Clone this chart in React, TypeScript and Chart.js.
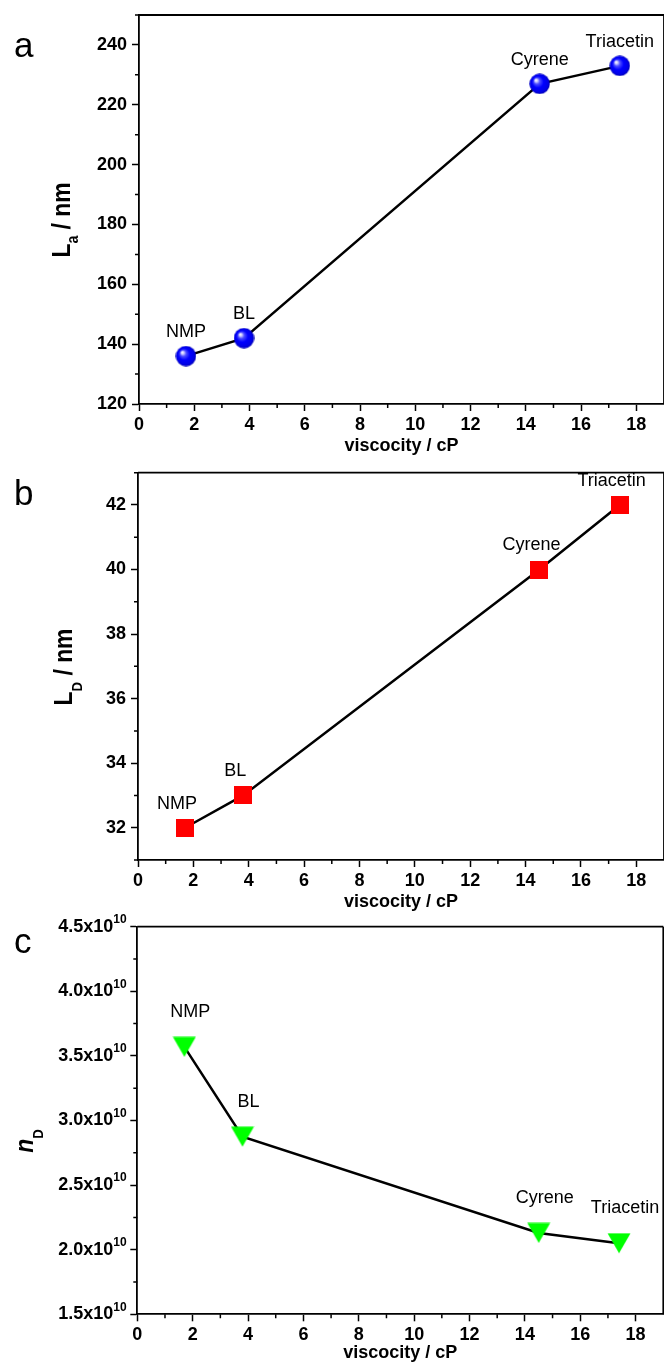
import React, { useEffect, useRef } from "react";
import { Chart, registerables } from "chart.js";

Chart.register(...registerables);

// ---------- data ----------
const solvents = ["NMP", "BL", "Cyrene", "Triacetin"];
const viscosity = [1.7, 3.8, 14.5, 17.4];
const laValues = [136, 142, 227, 233];
const ldValues = [32, 33, 40, 42];
const ndValues = [3.57e10, 2.875e10, 2.13e10, 2.05e10];

const xTicks = [0, 2, 4, 6, 8, 10, 12, 14, 16, 18];
const xMinorTicks = [1, 3, 5, 7, 9, 11, 13, 15, 17];

const yTicksA = [120, 140, 160, 180, 200, 220, 240];
const yMinorA = [130, 150, 170, 190, 210, 230, 250];
const yTicksB = [32, 34, 36, 38, 40, 42];
const yMinorB = [31, 33, 35, 37, 39, 41, 43];
const yTicksC = [1.5e10, 2.0e10, 2.5e10, 3.0e10, 3.5e10, 4.0e10, 4.5e10];
const yTickLabelsC = ["1.5x10", "2.0x10", "2.5x10", "3.0x10", "3.5x10", "4.0x10", "4.5x10"];
const yTickExpC = "10";
const yMinorC = [1.75e10, 2.25e10, 2.75e10, 3.25e10, 3.75e10, 4.25e10];

const xTitle = "viscocity / cP";
const FAMILY = '"Liberation Sans", Arial, Helvetica, sans-serif';

type TitlePart = { text: string; font: string; dy: number };

type PanelCfg = {
  top: number;
  height: number;
  padTop: number;
  padRight: number;
  yWidth: number;
  xHeight: number;
  yMin: number;
  yMax: number;
  yTicks: number[];
  yTickLabels: string[];
  yTickExp: string;
  yTickPadding: number;
  yMinor: number[];
  values: number[];
  marker: "sphere" | "square" | "triangle";
  letter: string;
  letterY: number;
  titleParts: TitlePart[];
  titleX: number;
  titleY: number;
  labelDx: number;
  labelDy: number;
};

function makeMarker(kind: string): HTMLCanvasElement {
  const c = document.createElement("canvas");
  if (kind === "sphere") {
    const d = 21;
    c.width = d;
    c.height = d;
    const g = c.getContext("2d")!;
    const r = d / 2;
    const grad = g.createRadialGradient(r * 0.62, r * 0.62, 0, r, r, r);
    grad.addColorStop(0, "#ffffff");
    grad.addColorStop(0.12, "#d8d8ff");
    grad.addColorStop(0.3, "#4a4aff");
    grad.addColorStop(0.55, "#0000ff");
    grad.addColorStop(0.85, "#0000e6");
    grad.addColorStop(1, "#0000a8");
    g.fillStyle = grad;
    g.beginPath();
    g.arc(r, r, r - 0.3, 0, Math.PI * 2);
    g.fill();
  } else if (kind === "square") {
    c.width = 18;
    c.height = 18;
    const g = c.getContext("2d")!;
    g.fillStyle = "#ff0000";
    g.fillRect(0, 0, 18, 18);
  } else {
    c.width = 24;
    c.height = 21;
    const g = c.getContext("2d")!;
    g.fillStyle = "#00ff00";
    g.beginPath();
    g.moveTo(0.5, 0.5);
    g.lineTo(23.5, 0.5);
    g.lineTo(12, 20.5);
    g.closePath();
    g.fill();
  }
  return c;
}

const panels: PanelCfg[] = [
  {
    top: 0,
    height: 457,
    padTop: 15,
    padRight: -1.5,
    yWidth: 139,
    xHeight: 53,
    yMin: 120,
    yMax: 250,
    yTicks: yTicksA,
    yTickLabels: yTicksA.map(String),
    yTickExp: "",
    yTickPadding: 5,
    yMinor: yMinorA,
    values: laValues,
    marker: "sphere",
    letter: "a",
    letterY: 57,
    titleParts: [
      { text: "L", font: `bold 26px ${FAMILY}`, dy: 0 },
      { text: "a", font: `bold 16px ${FAMILY}`, dy: 8 },
      { text: " / nm", font: `bold 26px ${FAMILY}`, dy: 0 },
    ],
    titleX: 70,
    titleY: 220,
    labelDx: 0,
    labelDy: -24,
  },
  {
    top: 460,
    height: 453,
    padTop: 12.7,
    padRight: -1.5,
    yWidth: 138,
    xHeight: 53,
    yMin: 31,
    yMax: 43,
    yTicks: yTicksB,
    yTickLabels: yTicksB.map(String),
    yTickExp: "",
    yTickPadding: 5,
    yMinor: yMinorB,
    values: ldValues,
    marker: "square",
    letter: "b",
    letterY: 505 - 460,
    titleParts: [
      { text: "L", font: `bold 26px ${FAMILY}`, dy: 0 },
      { text: "D", font: `bold 15px ${FAMILY}`, dy: 10 },
      { text: " / nm", font: `bold 26px ${FAMILY}`, dy: 0 },
    ],
    titleX: 72,
    titleY: 667 - 460,
    labelDx: -8,
    labelDy: -24,
  },
  {
    top: 913,
    height: 451,
    padTop: 13.7,
    padRight: 0.7,
    yWidth: 137.3,
    xHeight: 49.7,
    yMin: 1.5e10,
    yMax: 4.5e10,
    yTicks: yTicksC,
    yTickLabels: yTickLabelsC,
    yTickExp: yTickExpC,
    yTickPadding: 17,
    yMinor: yMinorC,
    values: ndValues,
    marker: "triangle",
    letter: "c",
    letterY: 953 - 913,
    titleParts: [
      { text: "n", font: `italic bold 26px ${FAMILY}`, dy: 0 },
      { text: "D", font: `bold 15px ${FAMILY}`, dy: 10 },
    ],
    titleX: 33,
    titleY: 1141 - 913,
    labelDx: 6,
    labelDy: -35,
  },
];

function Panel({ cfg }: { cfg: PanelCfg }) {
  const ref = useRef<HTMLCanvasElement | null>(null);

  useEffect(() => {
    const canvas = ref.current;
    if (!canvas) return;
    const markerImg = makeMarker(cfg.marker);

    const decor = {
      id: "decor",
      afterDraw(chart: any) {
        const ctx: CanvasRenderingContext2D = chart.ctx;
        const xs = chart.scales.x;
        const ys = chart.scales.y;
        const area = chart.chartArea;
        ctx.save();
        ctx.strokeStyle = "#000";
        ctx.lineWidth = 1.8;
        // frame top & right
        ctx.beginPath();
        ctx.moveTo(area.left, area.top);
        ctx.lineTo(area.right, area.top);
        ctx.moveTo(area.right, area.top);
        ctx.lineTo(area.right, area.bottom);
        ctx.stroke();
        // minor ticks
        ctx.lineWidth = 1.5;
        ctx.beginPath();
        xMinorTicks.forEach((v) => {
          const px = xs.getPixelForValue(v);
          ctx.moveTo(px, area.bottom);
          ctx.lineTo(px, area.bottom + 4);
        });
        cfg.yMinor.forEach((v) => {
          const py = ys.getPixelForValue(v);
          ctx.moveTo(area.left, py);
          ctx.lineTo(area.left - 4, py);
        });
        ctx.stroke();

        // exponent of y tick labels
        ctx.fillStyle = "#000";
        if (cfg.yTickExp) {
          ctx.font = `bold 12px ${FAMILY}`;
          ctx.textAlign = "left";
          ctx.textBaseline = "middle";
          const ex = area.left - 7 - cfg.yTickPadding;
          cfg.yTicks.forEach((v) => {
            const py = ys.getPixelForValue(v);
            ctx.fillText(cfg.yTickExp, ex, py - 7);
          });
        }

        // data labels
        const meta = chart.getDatasetMeta(0);
        ctx.font = `18px ${FAMILY}`;
        ctx.textAlign = "center";
        ctx.textBaseline = "middle";
        meta.data.forEach((pt: any, i: number) => {
          ctx.fillText(solvents[i], pt.x + cfg.labelDx, pt.y + cfg.labelDy);
        });

        // panel letter
        ctx.textAlign = "left";
        ctx.textBaseline = "alphabetic";
        ctx.font = `35px ${FAMILY}`;
        ctx.fillText(cfg.letter, 14, cfg.letterY);

        // y title
        ctx.translate(cfg.titleX, cfg.titleY);
        ctx.rotate(-Math.PI / 2);
        ctx.scale(0.88, 1);
        let total = 0;
        cfg.titleParts.forEach((p) => {
          ctx.font = p.font;
          total += ctx.measureText(p.text).width;
        });
        let x = -total / 2;
        cfg.titleParts.forEach((p) => {
          ctx.font = p.font;
          ctx.fillText(p.text, x, p.dy);
          x += ctx.measureText(p.text).width;
        });
        ctx.restore();
      },
    };

    const zeroPad = (s: any) => {
      s.paddingTop = 0;
      s.paddingBottom = 0;
      s.paddingLeft = 0;
      s.paddingRight = 0;
    };

    const chart = new Chart(canvas, {
      type: "line",
      data: {
        datasets: [
          {
            data: viscosity.map((v, i) => ({ x: v, y: cfg.values[i] })),
            borderColor: "#000",
            borderWidth: 2.5,
            pointStyle: markerImg as any,
            pointRadius: 10,
            tension: 0,
            clip: false as any,
          },
        ],
      },
      options: {
        responsive: false,
        animation: false,
        devicePixelRatio: 1,
        events: [],
        layout: {
          autoPadding: false,
          padding: { top: cfg.padTop, right: cfg.padRight, bottom: 0, left: 0 },
        },
        plugins: {
          legend: { display: false },
          tooltip: { enabled: false },
        },
        scales: {
          x: {
            type: "linear",
            min: 0,
            max: 19,
            afterBuildTicks: (s: any) => {
              s.ticks = xTicks.map((v) => ({ value: v }));
            },
            afterFit: (s: any) => {
              s.height = cfg.xHeight;
              zeroPad(s);
            },
            grid: {
              display: true,
              drawOnChartArea: false,
              drawTicks: true,
              tickLength: 7,
              tickWidth: 1.5,
              tickColor: "#000",
              color: "#000",
            },
            border: { display: true, color: "#000", width: 1.8 },
            ticks: {
              autoSkip: false,
              maxRotation: 0,
              padding: 3,
              color: "#000",
              font: { family: FAMILY, size: 18, weight: "bold" },
            },
            title: {
              display: true,
              text: xTitle,
              color: "#000",
              padding: 0,
              font: { family: FAMILY, size: 18, weight: "bold" },
            },
          },
          y: {
            type: "linear",
            min: cfg.yMin,
            max: cfg.yMax,
            afterBuildTicks: (s: any) => {
              s.ticks = cfg.yTicks.map((v) => ({ value: v }));
            },
            afterFit: (s: any) => {
              s.width = cfg.yWidth;
              zeroPad(s);
            },
            grid: {
              display: true,
              drawOnChartArea: false,
              drawTicks: true,
              tickLength: 7,
              tickWidth: 1.5,
              tickColor: "#000",
              color: "#000",
            },
            border: { display: true, color: "#000", width: 1.8 },
            ticks: {
              autoSkip: false,
              padding: cfg.yTickPadding,
              color: "#000",
              font: { family: FAMILY, size: 18, weight: "bold" },
              callback: (value: any) => {
                const idx = cfg.yTicks.indexOf(Number(value));
                return idx >= 0 ? cfg.yTickLabels[idx] : "";
              },
            },
          },
        },
      },
      plugins: [decor],
    } as any);

    return () => {
      chart.destroy();
    };
  }, [cfg]);

  return (
    <canvas
      ref={ref}
      width={664}
      height={cfg.height}
      style={{
        position: "absolute",
        left: 0,
        top: cfg.top,
        width: 664,
        height: cfg.height,
        display: "block",
      }}
    />
  );
}

export default function App() {
  return (
    <div
      style={{
        position: "absolute",
        left: 0,
        top: 0,
        width: 664,
        height: 1364,
        background: "#fff",
        overflow: "hidden",
      }}
    >
      {panels.map((p, i) => (
        <Panel key={i} cfg={p} />
      ))}
    </div>
  );
}
